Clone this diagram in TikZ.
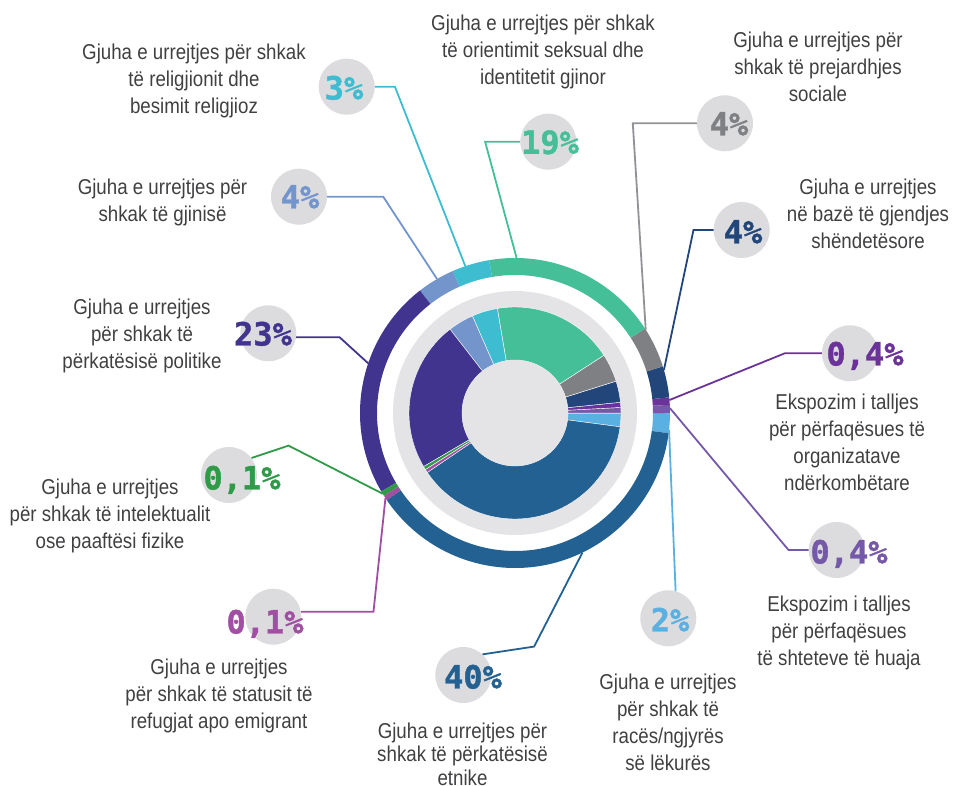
\documentclass[tikz,border=0pt]{standalone}
\usepackage{fontspec}
\setmainfont{Liberation Sans}[FakeStretch=0.87]
\newfontfamily\pctfont{DejaVu Sans Mono}[UprightFont=* Bold,FakeBold=1.2]
\usepackage{xcolor}
\usepackage{tikz}

\definecolor{segGreen}{HTML}{44BF98}
\definecolor{segCyan}{HTML}{3FBDD0}
\definecolor{segSteel}{HTML}{7395CC}
\definecolor{segIndigo}{HTML}{41348F}
\definecolor{segLeaf}{HTML}{2F9B48}
\definecolor{segOrchid}{HTML}{A14FA3}
\definecolor{segBlue}{HTML}{236193}
\definecolor{segSky}{HTML}{5BB0E2}
\definecolor{segViolet}{HTML}{7558A8}
\definecolor{segPlum}{HTML}{6B3399}
\definecolor{segNavy}{HTML}{22457A}
\definecolor{segGrey}{HTML}{7E8083}
\definecolor{diskGrey}{HTML}{E4E4E6}
\definecolor{bubbleGrey}{HTML}{DCDCDE}
\definecolor{labelGrey}{HTML}{404042}

\begin{document}
\begin{tikzpicture}[x=1pt,y=1pt,
	bubble/.style={circle,fill=bubbleGrey,minimum size=56pt,inner sep=0pt},
	pct/.style={font={\pctfont\fontsize{32}{32}\selectfont},text height=23pt,text depth=0pt,inner sep=0pt},
	lbl/.style={align=center,text=labelGrey,font={\fontsize{21.5}{27}\selectfont},inner sep=0pt},
	lead/.style={line width=1.8pt}] % gjuha e urrejtjes sipas kategorive
	\useasboundingbox (0,0) rectangle (954,786);
	
	\begin{scope}[shift={(515,373)}]
		\fill[diskGrey] (0,0) circle (122);
		\foreach \a/\b/\col in {-7.5/-0.1/segSky,-0.1/3.0/segViolet,3.0/5.8/segPlum,5.8/17.5/segNavy,
			17.5/33/segGrey,33/99.6/segGreen,99.6/113.7/segCyan,113.7/127.8/segSteel,
			127.8/210.4/segIndigo,210.4/212.3/segLeaf,212.3/214.2/segOrchid,214.2/352.5/segBlue}{
			\fill[\col] (\a:138) arc[start angle=\a,end angle=\b,radius=138]
			-- (\b:155) arc[start angle=\b,end angle=\a,radius=155] -- cycle;
			\filldraw[\col,draw=white,line width=0.4pt] (\a:53) arc[start angle=\a,end angle=\b,radius=53]
			-- (\b:106) arc[start angle=\b,end angle=\a,radius=106] -- cycle;
		}
		\fill[diskGrey] (0,0) circle (53);
		
		% pikat ne unazen e jashtme
		\foreach \n/\ang in {r3/108.7,rs/120.2,r19/89.4,rgr/32.5,rn/16.1,rp/4.8,rv/1.8,
			r2/-6.3,r40/-64.2,rm/213.3,rgs/211.4,ri/161.3}{
			\coordinate (\n) at (\ang:155);
		}
	\end{scope}
	
	\foreach \n/\x/\y in {c3/346.7/699.3,cs/299/589.3,c23/268.3/452.7,cgs/229/311,cm/273.3/169.3,
		c40/463.3/111,c2/668.3/167.7,cv/836.7/236,cp/850/432.7,cn/741.7/556,cgr/725/662.7,c19/548.3/644.3}{
		\node[bubble] (\n) at (\x,\y) {};
	}
	
	\draw[lead,segCyan] (c3.east) -- ++(20,0) -- (r3);
	\draw[lead,segSteel] (cs.east) -- ++(56,0) -- (rs);
	\draw[lead,segGreen] (c19.west) -- ++(-35,0) -- (r19);
	\draw[lead,segGrey!85!white] (cgr.west) -- ++(-64,0) -- (rgr);
	\draw[lead,segNavy] (cn.west) -- ++(-20,0) -- (rn);
	\draw[lead,segPlum] (cp.west) -- ++(-37,0) -- (rp);
	\draw[lead,segViolet] (cv.west) -- ++(-20,0) -- (rv);
	\draw[lead,segSky] (r2) -- (c2.75);
	\draw[lead,segBlue] (c40.47) -- ++(51.6,7.8) -- (r40);
	\draw[lead,segOrchid] (cm.10) -- ++(72.4,0) -- (rm);
	\draw[lead,segLeaf] (cgs.37) -- ++(37,12.4) -- (rgs);
	\draw[lead,segIndigo] (c23.-8) -- ++(43.3,0) -- (ri);
	
	\node[pct,text=segCyan] (t3) at (344,698) {3\%};
	\node[pct,text=segSteel] (ts) at (300,589) {4\%};
	\node[pct,text=segIndigo] (t23) at (263,452) {23\%};
	\node[pct,text=segLeaf] (tgs) at (242,308) {0,1\%};
	\node[pct,text=segOrchid] (tm) at (265,164) {0,1\%};
	\node[pct,text=segBlue] (t40) at (473,109) {40\%};
	\node[pct,text=segSky] (t2) at (670,166) {2\%};
	\node[pct,text=segViolet] (tv) at (849,234) {0,4\%};
	\node[pct,text=segPlum] (tp) at (865,432) {0,4\%};
	\node[pct,text=segNavy] (tn) at (743,554) {4\%};
	\node[pct,text=segGrey] (tgr) at (729,662) {4\%};
	\node[pct,text=segGreen] (t19) at (550,643.7) {19\%};
	
	\node[lbl] (lRel) at (194,705.5) {Gjuha e urrejtjes për shkak\\të religjionit dhe\\besimit religjioz};
	\node[lbl] (lGen) at (162.5,584) {Gjuha e urrejtjes për\\shkak të gjinisë};
	\node[lbl] (lPol) at (142,450) {Gjuha e urrejtjes\\për shkak të\\përkatësisë politike};
	\node[lbl] (lInt) at (110,270) {Gjuha e urrejtjes\\për shkak të intelektualit\\ose paaftësi fizike};
	\node[lbl] (lRef) at (219,90) {Gjuha e urrejtjes\\për shkak të statusit të\\refugjat apo emigrant};
	\node[lbl,font={\fontsize{21.5}{23.5}\selectfont}] (lEtn) at (462.5,32) {Gjuha e urrejtjes për\\shkak të përkatësisë\\etnike};
	\node[lbl] (lRac) at (668,63.5) {Gjuha e urrejtjes\\për shkak të\\racës/ngjyrës\\së lëkurës};
	\node[lbl] (lShu) at (839,153) {Ekspozim i talljes\\për përfaqësues\\të shteteve të huaja};
	\node[lbl] (lOrg) at (847,343.5) {Ekspozim i talljes\\për përfaqësues të\\organizatave\\ndërkombëtare};
	\node[lbl] (lShe) at (868,572) {Gjuha e urrejtjes\\në bazë të gjendjes\\shëndetësore};
	\node[lbl] (lSoc) at (818,719) {Gjuha e urrejtjes për\\shkak të prejardhjes\\sociale};
	\node[lbl] (lSek) at (543,734) {Gjuha e urrejtjes për shkak\\të orientimit seksual dhe\\identitetit gjinor};
\end{tikzpicture}
\end{document}
